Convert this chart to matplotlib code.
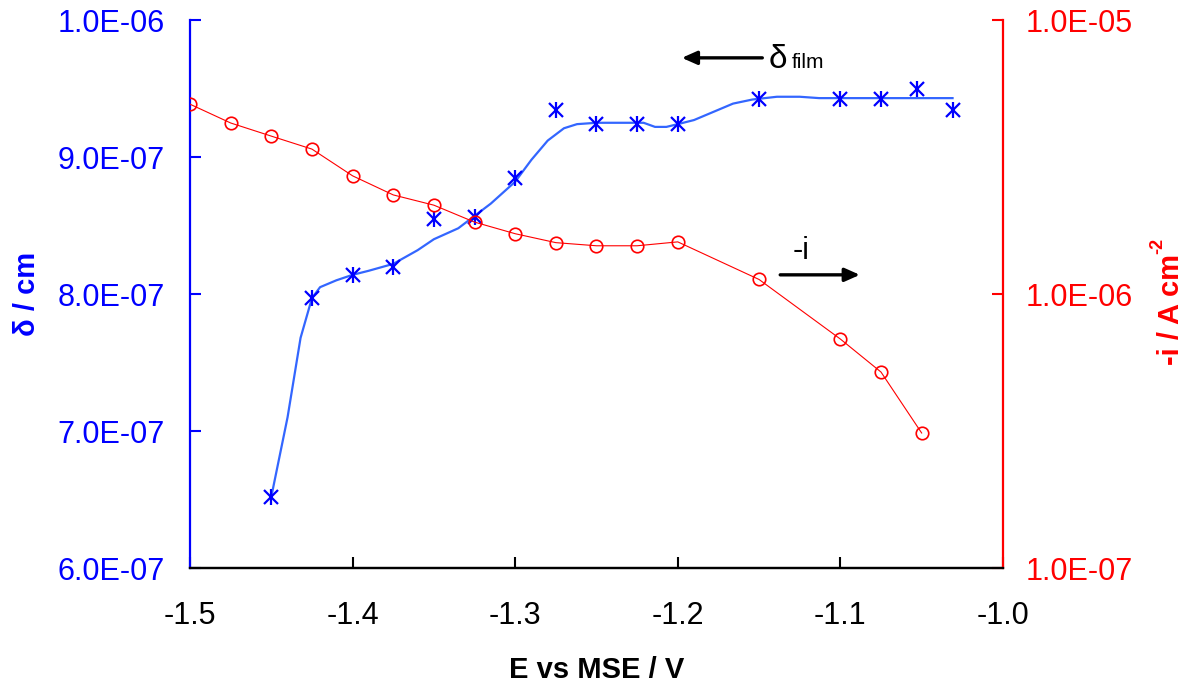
import matplotlib
matplotlib.use("Agg")
import matplotlib.pyplot as plt

plt.rcParams["font.family"] = ["Liberation Sans", "DejaVu Sans"]

# film thickness (left axis)
E_delta = [-1.45, -1.425, -1.40, -1.375, -1.35, -1.325, -1.30, -1.275, -1.25,
           -1.225, -1.20, -1.15, -1.10, -1.075, -1.053, -1.031]
delta = [6.52e-7, 7.97e-7, 8.14e-7, 8.20e-7, 8.55e-7, 8.56e-7, 8.85e-7, 9.34e-7,
         9.24e-7, 9.24e-7, 9.24e-7, 9.42e-7, 9.42e-7, 9.42e-7, 9.50e-7, 9.34e-7]

# smoothed trend through the thickness data
E_fit = [-1.45, -1.44, -1.432, -1.425, -1.42, -1.41, -1.40, -1.39, -1.375, -1.36,
         -1.35, -1.335, -1.325, -1.315, -1.30, -1.29, -1.28, -1.27, -1.262, -1.25,
         -1.221, -1.214, -1.207, -1.20, -1.19, -1.178, -1.166, -1.154, -1.139,
         -1.125, -1.113, -1.10, -1.031]
delta_fit = [6.52e-7, 7.10e-7, 7.68e-7, 7.97e-7, 8.05e-7, 8.10e-7, 8.14e-7, 8.17e-7,
             8.22e-7, 8.32e-7, 8.40e-7, 8.48e-7, 8.57e-7, 8.66e-7, 8.82e-7, 8.98e-7,
             9.12e-7, 9.21e-7, 9.24e-7, 9.25e-7, 9.25e-7, 9.22e-7, 9.22e-7, 9.24e-7,
             9.27e-7, 9.33e-7, 9.39e-7, 9.42e-7, 9.44e-7, 9.44e-7, 9.43e-7, 9.43e-7,
             9.43e-7]

# cathodic current density (right axis, log)
E_i = [-1.50, -1.475, -1.45, -1.425, -1.40, -1.375, -1.35, -1.325, -1.30, -1.275,
       -1.25, -1.225, -1.20, -1.15, -1.10, -1.075, -1.05]
neg_i = [4.93e-6, 4.21e-6, 3.77e-6, 3.38e-6, 2.70e-6, 2.30e-6, 2.11e-6, 1.83e-6,
         1.66e-6, 1.54e-6, 1.50e-6, 1.50e-6, 1.55e-6, 1.13e-6, 6.85e-7, 5.19e-7,
         3.11e-7]

x_ticks = [-1.5, -1.4, -1.3, -1.2, -1.1, -1.0]
left_ticks = [6e-7, 7e-7, 8e-7, 9e-7, 1e-6]
left_labels = ["6.0E-07", "7.0E-07", "8.0E-07", "9.0E-07", "1.0E-06"]
right_ticks = [1e-7, 1e-6, 1e-5]
right_labels = ["1.0E-07", "1.0E-06", "1.0E-05"]

BLUE = "#0000FF"
FIT_BLUE = "#3366FF"
RED = "#FF0000"
FS = 22

fig = plt.figure(figsize=(11.92, 6.91), dpi=100)
ax = fig.add_axes([0.1594, 0.178, 0.682, 0.793])
ax2 = ax.twinx()

ax.plot(E_fit, delta_fit, color=FIT_BLUE, lw=1.6, zorder=2)
ax.plot(E_delta, delta, ls="none", marker="x", ms=10, mew=1.6, color=BLUE, zorder=3)
ax.plot(E_delta, delta, ls="none", marker="|", ms=11, mew=1.6, color=BLUE, zorder=3)

ax2.plot(E_i, neg_i, color=RED, lw=0.8, marker="o", ms=9, mfc="none", mec=RED, mew=1.2)
ax2.set_yscale("log")

ax.set_xlim(-1.5, -1.0)
ax.set_ylim(6e-7, 1e-6)
ax2.set_ylim(1e-7, 1e-5)

ax.set_xticks(x_ticks)
ax.set_xticklabels([f"{v:.1f}" for v in x_ticks])
ax.set_yticks(left_ticks)
ax.set_yticklabels(left_labels)
ax2.set_yticks(right_ticks)
ax2.set_yticklabels(right_labels)
ax2.yaxis.set_minor_locator(matplotlib.ticker.NullLocator())

ax.tick_params(axis="x", direction="in", length=8, width=1.5, pad=24,
               labelsize=FS, colors="black")
ax.tick_params(axis="y", direction="in", length=8, width=1.5, pad=18,
               labelsize=FS, colors=BLUE)
ax2.tick_params(axis="y", direction="in", length=8, width=1.5, pad=16,
                labelsize=FS, colors=RED)

for a in (ax, ax2):
    a.spines["top"].set_visible(False)
    a.spines["bottom"].set_linewidth(1.6)
ax.spines["left"].set_color(BLUE)
ax.spines["left"].set_linewidth(1.6)
ax.spines["right"].set_visible(False)
ax2.spines["left"].set_visible(False)
ax2.spines["right"].set_color(RED)
ax2.spines["right"].set_linewidth(1.6)

fig.text(0.5007, 0.030, "E vs MSE / V", fontsize=21, fontweight="bold",
         ha="center", va="center")
fig.text(0.023, 0.574, "δ / cm", fontsize=21, fontweight="bold", color=BLUE,
         rotation=90, ha="center", va="center")
# right label with a small raised "-2"
fig.text(0.982, 0.552, "-i / A cm", fontsize=21, fontweight="bold", color=RED,
         rotation=90, ha="center", va="center")
fig.text(0.971, 0.644, "-2", fontsize=13, fontweight="bold", color=RED,
         rotation=90, ha="center", va="center")

# direction arrows pointing to each curve's axis
arrow = dict(arrowstyle="-|>,head_length=0.9,head_width=0.4", color="black", lw=2.4,
             shrinkA=0, shrinkB=0)
ax.annotate("", xy=(0.605, 0.931), xytext=(0.704, 0.931), xycoords="axes fraction",
            arrowprops=arrow)
ax.text(0.712, 0.912, "δ", fontsize=24, transform=ax.transAxes, ha="left",
        va="baseline")
ax.text(0.740, 0.912, "film", fontsize=15, transform=ax.transAxes, ha="left",
        va="baseline")
ax.annotate("", xy=(0.824, 0.535), xytext=(0.726, 0.535), xycoords="axes fraction",
            arrowprops=arrow)
ax.text(0.752, 0.578, "-i", fontsize=22, transform=ax.transAxes, ha="center",
        va="center")

fig.savefig("out.png", dpi=100)
